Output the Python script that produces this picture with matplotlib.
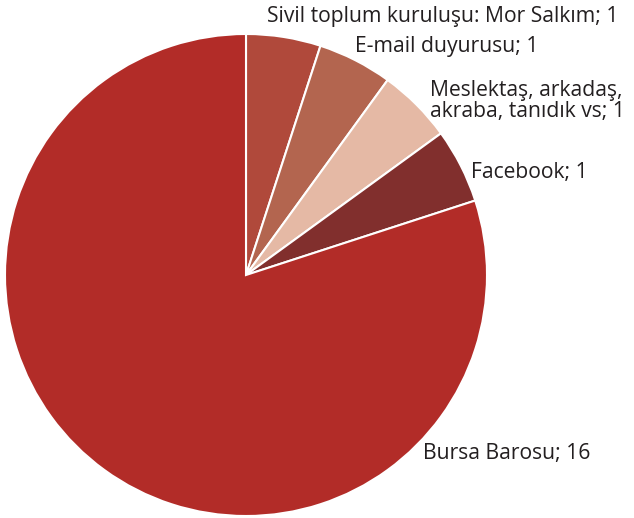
import matplotlib.pyplot as plt

# --- data ---
labels = ["Sivil toplum kuruluşu: Mor Salkım", "E-mail duyurusu",
          "Meslektaş, arkadaş,\nakraba, tanıdık vs", "Facebook", "Bursa Barosu"]
values = [1, 1, 1, 1, 16]
colors = ["#b0493b", "#b3654f", "#e5b9a5", "#812f2d", "#b22c28"]

# label baseline anchors (last line, pixels, top-left origin)
label_pos = [(267, 22.3), (355, 52.3), (430.5, 116.7), (471, 177.7), (423, 459)]

W, H = 634, 518
fig = plt.figure(figsize=(W / 100, H / 100), dpi=100)
ax = fig.add_axes([0, 0, 1, 1])
ax.set_xlim(0, W)
ax.set_ylim(0, H)
ax.set_aspect("equal")
ax.axis("off")

ax.pie(values, colors=colors, startangle=90, counterclock=False,
       center=(246, H - 275), radius=241,
       wedgeprops=dict(edgecolor="white", linewidth=1.5))
ax.set_xlim(0, W)
ax.set_ylim(0, H)

for lab, v, (x, y) in zip(labels, values, label_pos):
    ax.text(x, H - y, f"{lab}; {v}", ha="left", va="baseline",
            fontsize=15.2, color="#231f20", family="Open Sans",
            linespacing=0.98)

fig.savefig("out.png", dpi=100)
